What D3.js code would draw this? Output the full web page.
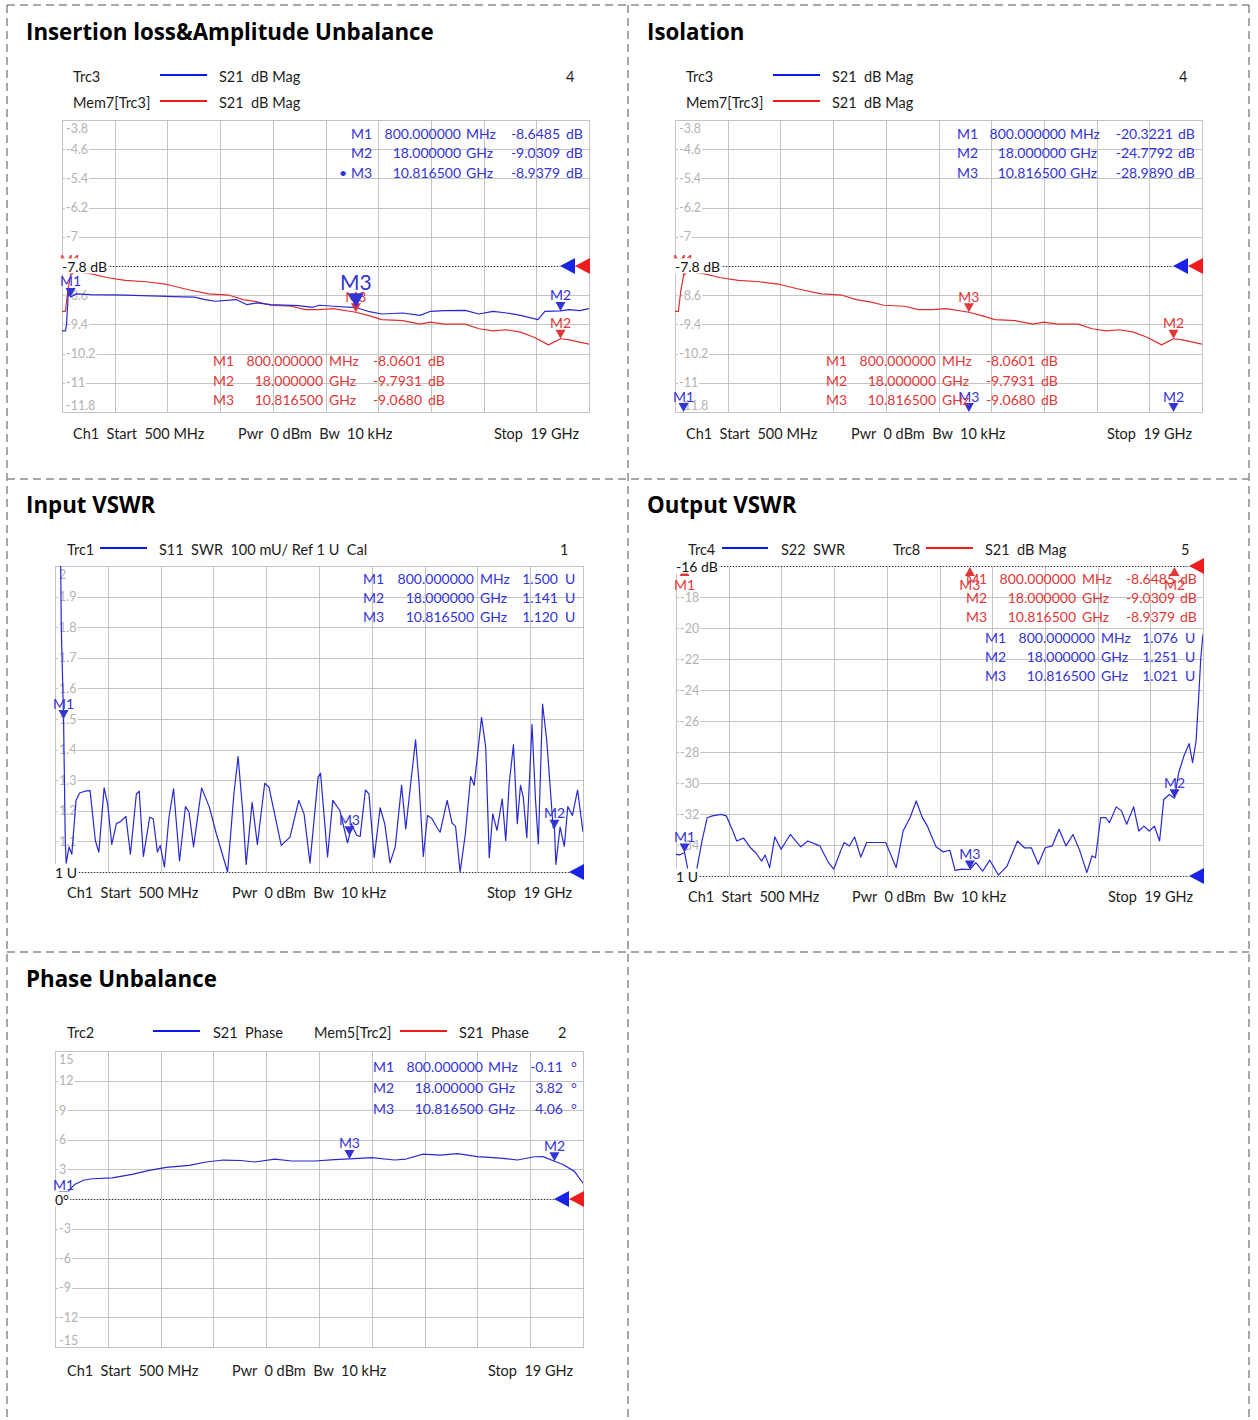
<!DOCTYPE html>
<html><head><meta charset="utf-8">
<script src="https://cdn.jsdelivr.net/npm/d3@7"></script>
<style>
html,body{margin:0;padding:0;background:#fff;}
svg{display:block;}
text{white-space:pre;}
</style></head><body>
<svg id="c" width="1258" height="1420"></svg>
<script>
// ---------------- DATA ----------------
const xStartGHz = 0.5, xStopGHz = 19;
const markerNames = ["M1", "M2", "M3"];
const markerFreqText = ["800.000000", "18.000000", "10.816500"];
const markerFreqUnit = ["MHz", "GHz", "GHz"];
const markerFreqGHz = [0.8, 18.0, 10.8165];

const ilTrc3Vals = [-8.6485, -9.0309, -8.9379];
const ilMem7Vals = [-8.0601, -9.7931, -9.0680];
const isoTrc3Vals = [-20.3221, -24.7792, -28.9890];
const inSwrVals = [1.500, 1.141, 1.120];
const outTrc8Vals = [-8.6485, -9.0309, -8.9379];
const outSwrVals = [1.076, 1.251, 1.021];
const phaseVals = [-0.11, 3.82, 4.06];

const ilTickLabels = ["-3.8","-4.6","-5.4","-6.2","-7","-7.8","-8.6","-9.4","-10.2","-11","-11.8"];
const swrTickLabels = ["2","1.9","1.8","1.7","1.6","1.5","1.4","1.3","1.2","1.1","1"];
const outTickLabels = ["-16","-18","-20","-22","-24","-26","-28","-30","-32","-34","-36"];
const phaseTickLabels = ["15","12","9","6","3","0","-3","-6","-9","-12","-15"];

// S21 dB Mag, Trc3 (GHz, dB)
const trc3IL = [[0.5,-9.575],[0.62,-9.575],[0.66,-9.4],[0.72,-8.55],[0.8,-8.6485],[1.01,-8.563],[1.5,-8.582],[2.2,-8.59],[2.72,-8.60],[3.3,-8.61],[3.93,-8.628],[4.4,-8.64],[5.15,-8.655],[5.52,-8.72],[5.88,-8.766],[6.61,-8.72],[6.98,-8.857],[7.35,-8.811],[7.83,-8.857],[8.81,-8.885],[9.29,-8.931],[9.54,-8.876],[10.02,-8.903],[10.8165,-8.9379],[11.24,-9.041],[11.73,-9.115],[12.46,-9.087],[13.07,-9.152],[13.44,-9.041],[13.92,-9.023],[14.65,-9.014],[15.14,-9.115],[15.63,-9.041],[16.11,-9.087],[16.6,-9.152],[17.21,-9.271],[17.45,-9.041],[18.0,-9.0309],[18.31,-8.995],[18.67,-9.023],[19.0,-8.968]];
// S21 dB Mag, Mem7[Trc3]
const mem7IL = [[0.5,-9.041],[0.62,-9.041],[0.7,-8.5],[0.8,-8.0601],[0.95,-7.95],[1.1,-7.97],[1.5,-8.011],[2.11,-8.122],[2.72,-8.195],[3.45,-8.232],[4.18,-8.306],[4.91,-8.444],[5.64,-8.563],[6.37,-8.60],[6.86,-8.72],[7.35,-8.784],[7.83,-8.876],[8.56,-8.903],[9.05,-8.995],[9.54,-8.995],[10.02,-8.968],[10.8165,-9.068],[11.24,-9.152],[11.73,-9.271],[12.46,-9.299],[13.07,-9.391],[13.44,-9.336],[13.92,-9.391],[14.65,-9.391],[15.14,-9.52],[15.63,-9.575],[16.11,-9.547],[16.6,-9.611],[17.09,-9.759],[17.58,-9.961],[18.0,-9.7931],[18.31,-9.823],[18.67,-9.887],[19.0,-9.943]];
// S11 SWR
const s11Swr = [[0.5,2.4],[0.68,2.2],[0.72,1.8],[0.8,1.5],[0.86,1.1],[0.893,1.029],[0.992,1.082],[1.09,1.058],[1.237,1.234],[1.36,1.258],[1.545,1.264],[1.729,1.266],[1.913,1.103],[2.036,1.065],[2.221,1.275],[2.344,1.223],[2.49,1.09],[2.651,1.158],[2.81,1.166],[2.983,1.182],[3.142,1.058],[3.351,1.255],[3.45,1.264],[3.597,1.051],[3.818,1.179],[3.941,1.174],[4.089,1.065],[4.187,1.087],[4.334,1.016],[4.494,1.179],[4.654,1.272],[4.863,1.036],[5.072,1.214],[5.195,1.196],[5.355,1.082],[5.637,1.275],[5.908,1.212],[6.153,1.125],[6.547,1.0],[6.768,1.255],[6.915,1.377],[7.075,1.201],[7.198,1.025],[7.407,1.228],[7.591,1.09],[7.849,1.29],[7.997,1.277],[8.427,1.087],[8.734,1.114],[9.042,1.234],[9.226,1.19],[9.435,1.029],[9.718,1.31],[9.804,1.323],[10.05,1.049],[10.234,1.234],[10.48,1.201],[10.75,1.095],[10.8165,1.12],[10.885,1.158],[11.069,1.12],[11.192,1.116],[11.377,1.268],[11.5,1.255],[11.684,1.047],[11.893,1.21],[12.053,1.158],[12.237,1.03],[12.421,1.082],[12.643,1.283],[12.79,1.141],[12.974,1.299],[13.134,1.432],[13.257,1.288],[13.405,1.051],[13.552,1.185],[13.712,1.174],[13.872,1.147],[13.994,1.13],[14.24,1.234],[14.412,1.16],[14.535,1.149],[14.695,1.0],[14.879,1.125],[15.064,1.312],[15.187,1.283],[15.445,1.505],[15.592,1.408],[15.715,1.047],[15.838,1.19],[15.985,1.136],[16.17,1.239],[16.293,1.103],[16.416,1.29],[16.563,1.416],[16.698,1.158],[16.809,1.283],[16.907,1.245],[17.03,1.112],[17.214,1.482],[17.337,1.234],[17.436,1.092],[17.583,1.549],[17.731,1.429],[17.952,1.147],[18.0,1.141],[18.05,1.025],[18.198,1.147],[18.345,1.084],[18.468,1.214],[18.628,1.185],[18.812,1.268],[19.0,1.13]];
// S22 SWR
const s22Swr = [[0.5,1.07],[0.622,1.068],[0.78,1.075],[0.8,1.076],[0.926,1.016],[1.048,1.016],[1.23,1.022],[1.413,1.113],[1.595,1.188],[1.778,1.194],[2.082,1.199],[2.265,1.194],[2.447,1.156],[2.63,1.113],[2.873,1.122],[3.116,1.091],[3.299,1.075],[3.506,1.048],[3.628,1.068],[3.786,1.027],[3.968,1.126],[4.188,1.086],[4.334,1.108],[4.516,1.134],[4.699,1.113],[4.881,1.094],[5.125,1.113],[5.551,1.097],[5.855,1.043],[6.037,1.022],[6.281,1.081],[6.402,1.108],[6.585,1.097],[6.768,1.126],[6.987,1.061],[7.194,1.108],[7.376,1.108],[7.863,1.108],[8.228,1.027],[8.471,1.145],[8.715,1.188],[8.934,1.242],[9.141,1.19],[9.323,1.161],[9.628,1.094],[9.871,1.078],[10.114,1.083],[10.297,1.018],[10.54,1.022],[10.8165,1.021],[11.027,1.043],[11.27,1.016],[11.514,1.051],[11.818,1.003],[12.122,1.032],[12.487,1.113],[12.731,1.091],[12.974,1.091],[13.218,1.038],[13.461,1.091],[13.704,1.097],[13.948,1.151],[14.191,1.097],[14.435,1.134],[14.678,1.081],[14.921,1.011],[15.104,1.065],[15.226,1.059],[15.408,1.188],[15.591,1.188],[15.713,1.172],[15.956,1.223],[16.138,1.21],[16.321,1.167],[16.564,1.223],[16.747,1.145],[16.93,1.161],[17.112,1.145],[17.295,1.161],[17.477,1.113],[17.623,1.247],[17.818,1.263],[18.0,1.251],[18.147,1.333],[18.33,1.387],[18.512,1.427],[18.634,1.366],[18.756,1.435],[18.841,1.565],[18.92,1.7],[19.0,1.78]];
// S21 Phase (deg)
const s21Phase = [[0.5,-0.5],[0.8,-0.11],[1.0,0.9],[1.2,1.5],[1.5,1.9],[1.8,2.05],[2.5,2.15],[3.2,2.5],[3.8,2.9],[4.4,3.2],[5.2,3.4],[5.8,3.75],[6.4,3.95],[7.0,3.9],[7.5,3.75],[8.2,4.05],[8.8,3.85],[9.6,3.85],[10.3,4.0],[10.8165,4.06],[11.6,4.2],[12.4,3.95],[12.8,4.05],[13.4,4.55],[14.0,4.45],[14.6,4.6],[15.3,4.3],[16.1,4.15],[16.7,3.95],[17.3,4.28],[17.6,4.3],[18.0,3.82],[18.3,3.5],[18.7,2.8],[19.0,1.6]];

// ---------------- STYLE ----------------
const FONT = "Lato, 'Noto Sans', sans-serif";
const TITLE_FONT = "'Open Sans', 'Noto Sans', sans-serif";
const BLUE = "#2828d2", RED = "#de2e2e";
const BLUE_TXT = "#3434d4", RED_TXT = "#e03838";
const LEG_BLUE = "#0c1ae8", LEG_RED = "#f01c1c";
const REF_BLUE = "#1a22e6", REF_RED = "#ee1c1c";
const GRID = "#c4c4c4", TICK_TXT = "#b2b2b2", TXT = "#1c1c1c";
const LABEL_SIZE = 14.5;

const svg = d3.select("#c");

// dashed cell borders
const borderG = svg.append("g").attr("stroke", "#8c8c8c").attr("stroke-width", 1.5)
  .attr("stroke-dasharray", "8,5").attr("fill", "none");
[[7,5,1249,5],[7,479,1249,479],[7,952,1249,952],[7,5,7,1420],[628,5,628,1420],[1249,5,1249,1420]]
  .forEach(l => borderG.append("line").attr("x1", l[0]).attr("y1", l[1]).attr("x2", l[2]).attr("y2", l[3]));

// titles
[["Insertion loss&Amplitude Unbalance", 26, 40], ["Isolation", 647, 40], ["Input VSWR", 26, 513],
 ["Output VSWR", 647, 513], ["Phase Unbalance", 26, 987]].forEach(t =>
  svg.append("text").attr("x", t[1]).attr("y", t[2]).style("font-family", TITLE_FONT)
    .style("font-size", "22.3px").style("font-weight", "700").attr("fill", "#000").text(t[0]));

function textBg(g, x, y, str, color, size, anchor) {
  const t = g.append("text").attr("x", x).attr("y", y).attr("dominant-baseline", "central")
    .attr("text-anchor", anchor || "start").style("font-family", FONT).style("font-size", size + "px")
    .attr("fill", color).text(str);
  const bb = t.node().getBBox();
  g.insert("rect", function(){ return t.node(); }).attr("x", bb.x - 1).attr("y", bb.y + 1)
    .attr("width", bb.width + 2).attr("height", bb.height - 2).attr("fill", "#fff");
  return t;
}

function drawPanel(p) {
  const g = svg.append("g");
  const b = p.box;
  const x = d3.scaleLinear().domain([xStartGHz, xStopGHz]).range([b.x0, b.x1]);
  const y = d3.scaleLinear().domain(p.yDomain).range([b.y1, b.y0]);
  const yAlt = p.yDomainAlt ? d3.scaleLinear().domain(p.yDomainAlt).range([b.y1, b.y0]) : y;
  const clipId = "clip" + p.id;
  g.append("clipPath").attr("id", clipId).append("rect")
    .attr("x", b.x0).attr("y", b.y0).attr("width", b.x1 - b.x0).attr("height", b.y1 - b.y0);

  // legend
  p.legend.forEach(it => {
    if (it.line) g.append("line").attr("x1", it.x1).attr("x2", it.x2).attr("y1", it.y).attr("y2", it.y)
      .attr("stroke", it.line).attr("stroke-width", 2);
    else g.append("text").attr("x", it.x).attr("y", it.y).attr("dominant-baseline", "central")
      .style("font-family", FONT).style("font-size", LABEL_SIZE + "px").attr("fill", TXT).text(it.text);
  });

  // grid
  const xg = d3.range(1, 10).map(i => xStartGHz + i * (xStopGHz - xStartGHz) / 10);
  const [ya, yb] = p.yDomain;
  const yg = d3.range(1, 10).map(i => ya + i * (yb - ya) / 10);
  const grid = g.append("g").attr("stroke", GRID).attr("stroke-width", 1);
  grid.selectAll("line.v").data(xg).join("line").attr("class", "v")
    .attr("x1", d => Math.round(x(d)) + 0.5).attr("x2", d => Math.round(x(d)) + 0.5).attr("y1", b.y0).attr("y2", b.y1);
  grid.selectAll("line.h").data(yg).join("line").attr("class", "h")
    .attr("y1", d => Math.round(y(d)) + 0.5).attr("y2", d => Math.round(y(d)) + 0.5).attr("x1", b.x0).attr("x2", b.x1);
  g.append("rect").attr("x", b.x0 + 0.5).attr("y", b.y0 + 0.5).attr("width", b.x1 - b.x0).attr("height", b.y1 - b.y0)
    .attr("fill", "none").attr("stroke", GRID);

  // refs pixel positions
  const refs = p.refs.map(r => Object.assign({}, r, { py: (r.alt ? yAlt : y)(r.value) }));

  // tick labels
  p.ticks.forEach(lbl => {
    const v = +lbl; let py = y(v);
    if (refs.some(r => Math.abs(r.py - py) < 3)) return;
    if (Math.abs(py - b.y0) < 1) py += 8;
    else if (Math.abs(py - b.y1) < 1) py -= 7;
    textBg(g, b.x0 + 4, py, lbl, TICK_TXT, 12.5);
  });

  // ref dotted lines
  const TW = 15;
  refs.forEach(r => {
    const leftTip = b.x1 + 1 - TW * r.tris.length;
    g.append("line").attr("x1", b.x0).attr("x2", leftTip).attr("y1", Math.round(r.py) + 0.5).attr("y2", Math.round(r.py) + 0.5)
      .attr("stroke", "#333").attr("stroke-width", 1).attr("stroke-dasharray", "1,2");
  });

  // traces
  const tg = g.append("g").attr("clip-path", `url(#${clipId})`);
  p.traces.forEach(tr => {
    const ys = tr.alt ? yAlt : y;
    tg.append("path").datum(tr.data).attr("fill", "none").attr("stroke", tr.color).attr("stroke-width", 1.2)
      .attr("stroke-linejoin", "round")
      .attr("d", d3.line().x(d => x(d[0])).y(d => ys(d[1])));
  });

  // markers
  p.markers.forEach(mk => {
    const ys = mk.alt ? yAlt : y;
    mk.vals.forEach((v, i) => {
      const big = mk.big === i;
      const s = big ? 1.6 : 1;
      const hw = 5 * s, h = 9 * s;
      const px = x(markerFreqGHz[i]);
      let py = ys(v);
      let path, ly;
      if (py < b.y0) {
        const tip = b.y0 + 1;
        path = `M${px},${tip}L${px + hw},${tip + h}L${px - hw},${tip + h}Z`;
        ly = tip + h + 8;
      } else {
        if (py > b.y1) py = b.y1;
        path = `M${px},${py}L${px + hw},${py - h}L${px - hw},${py - h}Z`;
        ly = py - h - 7 * s;
      }
      g.append("path").attr("d", path).attr("fill", mk.color);
      g.append("text").attr("x", px).attr("y", ly).attr("text-anchor", "middle").attr("dominant-baseline", "central")
        .style("font-family", FONT).style("font-size", (big ? 21 : 14) + "px").attr("fill", mk.color).text(markerNames[i]);
    });
  });

  // ref labels and triangles
  refs.forEach(r => {
    textBg(g, b.x0, r.py, r.label, "#111", 14);
    r.tris.forEach((c, k) => {
      const base = b.x1 + 1 - TW * (r.tris.length - 1 - k);
      const tip = base - TW;
      g.append("path").attr("d", `M${tip},${r.py}L${base},${r.py - 8}L${base},${r.py + 8}Z`).attr("fill", c);
    });
  });

  // marker tables
  p.tables.forEach(tb => {
    const tgp = g.append("g").style("font-family", FONT).style("font-size", (tb.size || 14) + "px").attr("fill", tb.color);
    const c = tb.cols;
    tb.vals.forEach((v, i) => {
      const yy = tb.rowsY[i];
      const add = (xx, str, anchor) => tgp.append("text").attr("x", xx).attr("y", yy)
        .attr("dominant-baseline", "central").attr("text-anchor", anchor).text(str);
      if (tb.bullet === i) add(c[0] - 4, "•", "end");
      add(c[0], markerNames[i], "start");
      add(c[1], markerFreqText[i], "end");
      add(c[2], markerFreqUnit[i], "start");
      add(c[3], d3.format(tb.fmt)(v).replace("−", "-"), "end");
      add(c[4], tb.unit, "start");
    });
  });

  // footer
  p.footer.items.forEach(f => g.append("text").attr("x", f[1]).attr("y", p.footer.y).attr("dominant-baseline", "central")
    .attr("text-anchor", f[2]).style("font-family", FONT).style("font-size", LABEL_SIZE + "px").attr("fill", TXT).text(f[0]));
}

const footerTexts = ["Ch1  Start  500 MHz", "Pwr  0 dBm  Bw  10 kHz", "Stop  19 GHz"];

function ilLegend(dx) {
  return [{text: "Trc3", x: 73 + dx, y: 76}, {line: LEG_BLUE, x1: 160 + dx, x2: 207 + dx, y: 75},
    {text: "S21  dB Mag", x: 219 + dx, y: 76}, {text: "4", x: 566 + dx, y: 76},
    {text: "Mem7[Trc3]", x: 73 + dx, y: 102}, {line: LEG_RED, x1: 160 + dx, x2: 207 + dx, y: 101},
    {text: "S21  dB Mag", x: 219 + dx, y: 102}];
}

// Panel 1: Insertion loss
drawPanel({
  id: 1, box: {x0: 62, x1: 589, y0: 120, y1: 412}, yDomain: [-11.8, -3.8], ticks: ilTickLabels,
  legend: ilLegend(0),
  refs: [{value: -7.8, label: "-7.8 dB", tris: [REF_BLUE, REF_RED]}],
  traces: [{data: mem7IL, color: RED}, {data: trc3IL, color: BLUE}],
  markers: [{vals: ilMem7Vals, color: RED_TXT}, {vals: ilTrc3Vals, color: BLUE_TXT, big: 2}],
  tables: [
    {vals: ilTrc3Vals, color: BLUE_TXT, fmt: ".4f", unit: "dB", rowsY: [133, 152, 172], cols: [351, 461, 466, 560, 566], bullet: 2},
    {vals: ilMem7Vals, color: RED_TXT, fmt: ".4f", unit: "dB", rowsY: [360, 380, 399], cols: [213, 323, 329, 422, 428]}],
  footer: {y: 433, items: [[footerTexts[0], 73, "start"], [footerTexts[1], 238, "start"], [footerTexts[2], 579, "end"]]}
});

// Panel 2: Isolation
drawPanel({
  id: 2, box: {x0: 675, x1: 1202, y0: 120, y1: 412}, yDomain: [-11.8, -3.8], ticks: ilTickLabels,
  legend: ilLegend(613),
  refs: [{value: -7.8, label: "-7.8 dB", tris: [REF_BLUE, REF_RED]}],
  traces: [{data: mem7IL, color: RED}],
  markers: [{vals: ilMem7Vals, color: RED_TXT}, {vals: isoTrc3Vals, color: BLUE_TXT}],
  tables: [
    {vals: isoTrc3Vals, color: BLUE_TXT, fmt: ".4f", unit: "dB", rowsY: [133, 152, 172], cols: [957, 1066, 1070, 1173, 1178]},
    {vals: ilMem7Vals, color: RED_TXT, fmt: ".4f", unit: "dB", rowsY: [360, 380, 399], cols: [826, 936, 942, 1035, 1041]}],
  footer: {y: 433, items: [[footerTexts[0], 686, "start"], [footerTexts[1], 851, "start"], [footerTexts[2], 1192, "end"]]}
});

// Panel 3: Input VSWR
drawPanel({
  id: 3, box: {x0: 55, x1: 583, y0: 566, y1: 872}, yDomain: [1, 2], ticks: swrTickLabels,
  legend: [{text: "Trc1", x: 67, y: 549}, {line: LEG_BLUE, x1: 100, x2: 147, y: 548},
    {text: "S11  SWR  100 mU/ Ref 1 U  Cal", x: 159, y: 549}, {text: "1", x: 560, y: 549}],
  refs: [{value: 1, label: "1 U", tris: [REF_BLUE]}],
  traces: [{data: s11Swr, color: BLUE}],
  markers: [{vals: inSwrVals, color: BLUE_TXT}],
  tables: [{vals: inSwrVals, color: BLUE_TXT, fmt: ".3f", unit: "U", rowsY: [578, 597, 616], cols: [363, 474, 480, 558, 565]}],
  footer: {y: 892, items: [[footerTexts[0], 67, "start"], [footerTexts[1], 232, "start"], [footerTexts[2], 572, "end"]]}
});

// Panel 4: Output VSWR
drawPanel({
  id: 4, box: {x0: 676, x1: 1203, y0: 566, y1: 876}, yDomain: [-36, -16], yDomainAlt: [1, 2], ticks: outTickLabels,
  legend: [{text: "Trc4", x: 688, y: 549}, {line: LEG_BLUE, x1: 722, x2: 768, y: 548},
    {text: "S22  SWR", x: 781, y: 549}, {text: "Trc8", x: 893, y: 549}, {line: LEG_RED, x1: 926, x2: 973, y: 548},
    {text: "S21  dB Mag", x: 985, y: 549}, {text: "5", x: 1181, y: 549}],
  refs: [{value: -16, label: "-16 dB", tris: [REF_RED]}, {value: 1, alt: true, label: "1 U", tris: [REF_BLUE]}],
  traces: [{data: s22Swr, color: BLUE, alt: true}],
  markers: [{vals: outTrc8Vals, color: RED_TXT}, {vals: outSwrVals, color: BLUE_TXT, alt: true}],
  tables: [
    {vals: outTrc8Vals, color: RED_TXT, fmt: ".4f", unit: "dB", rowsY: [578, 597, 616], cols: [966, 1076, 1082, 1175, 1180]},
    {vals: outSwrVals, color: BLUE_TXT, fmt: ".3f", unit: "U", rowsY: [637, 656, 675], cols: [985, 1095, 1101, 1178, 1185]}],
  footer: {y: 896, items: [[footerTexts[0], 688, "start"], [footerTexts[1], 852, "start"], [footerTexts[2], 1193, "end"]]}
});

// Panel 5: Phase Unbalance
drawPanel({
  id: 5, box: {x0: 55, x1: 583, y0: 1051, y1: 1347}, yDomain: [-15, 15], ticks: phaseTickLabels,
  legend: [{text: "Trc2", x: 67, y: 1032}, {line: LEG_BLUE, x1: 153, x2: 200, y: 1031},
    {text: "S21  Phase", x: 213, y: 1032}, {text: "Mem5[Trc2]", x: 314, y: 1032},
    {line: LEG_RED, x1: 400, x2: 447, y: 1031}, {text: "S21  Phase", x: 459, y: 1032}, {text: "2", x: 558, y: 1032}],
  refs: [{value: 0, label: "0°", tris: [REF_BLUE, REF_RED]}],
  traces: [{data: s21Phase, color: BLUE}],
  markers: [{vals: phaseVals, color: BLUE_TXT}],
  tables: [{vals: phaseVals, color: BLUE_TXT, fmt: ".2f", unit: "°", size: 14, rowsY: [1066, 1087, 1108], cols: [373, 483, 488, 563, 571]}],
  footer: {y: 1370, items: [[footerTexts[0], 67, "start"], [footerTexts[1], 232, "start"], [footerTexts[2], 573, "end"]]}
});
</script></body></html>
